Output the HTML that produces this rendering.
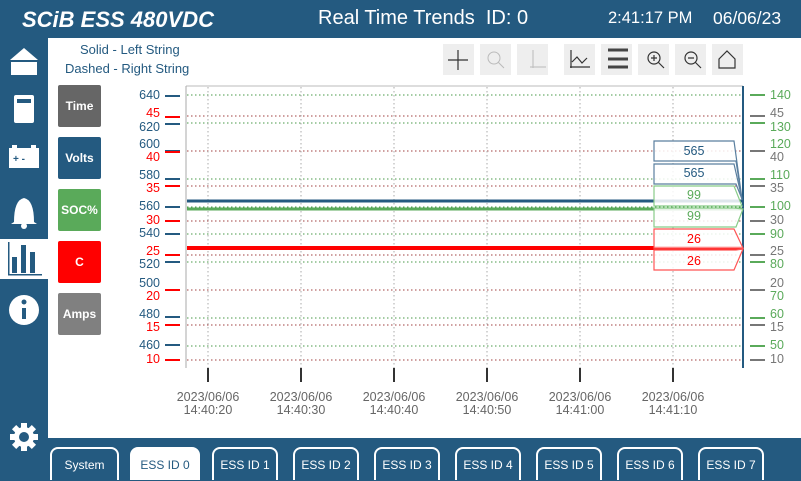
<!DOCTYPE html>
<html><head><meta charset="utf-8"><style>
body{margin:0;width:801px;height:480px;overflow:hidden;background:#245a80;font-family:"Liberation Sans",sans-serif;position:relative}
.hd{position:absolute;color:#fff;top:8px;font-size:19px}
.main{position:absolute;left:48px;top:38px;width:753px;height:400px;background:#fff}
.btn{position:absolute;left:58px;width:43px;height:42px;border-radius:2px;color:#fff;font-weight:bold;font-size:12px;display:flex;align-items:center;justify-content:center}
.tab{position:absolute;top:447px;width:66px;height:33px;border:2px solid #fff;border-bottom:none;border-radius:8px 8px 0 0;color:#fff;font-size:12px;text-align:center;line-height:32px;box-sizing:border-box}
.tb{position:absolute;top:44px;width:31px;height:31px;background:#eee}
</style></head><body>
<div class="hd" style="left:22px;top:7px;font-size:22px;font-weight:bold;font-style:italic">SCiB ESS 480VDC</div>
<div class="hd" style="left:318px;font-size:20px;top:7px">Real Time Trends&nbsp; ID: 0</div>
<div class="hd" style="left:608px;font-size:16.5px;top:9px">2:41:17 PM</div>
<div class="hd" style="left:713px;font-size:17.5px">06/06/23</div>
<div class="main"></div>
<div style="position:absolute;left:0;top:239px;width:48px;height:40px;background:#fff"></div>
<svg style="position:absolute;left:0;top:0" width="48" height="480">
<g fill="#fff">
<polygon points="10,60 24,48 38,60"/><rect x="11" y="62" width="26" height="13"/>
<rect x="14" y="95" width="20" height="28" rx="2"/>
<rect x="9" y="148" width="30" height="20"/><rect x="12" y="145" width="5" height="3"/><rect x="31" y="145" width="5" height="3"/>
<path d="M14,222 Q14,200 24,198 Q34,200 34,222 L37,224 L11,224 Z"/><circle cx="24" cy="226" r="3"/>
<circle cx="24" cy="310" r="15"/>
<circle cx="24" cy="437" r="10"/>
</g>
<g fill="#fff"><rect x="21" y="423" width="6" height="28"/><rect x="10" y="434" width="28" height="6"/><rect x="21" y="423" width="6" height="28" transform="rotate(45 24 437)"/><rect x="21" y="423" width="6" height="28" transform="rotate(-45 24 437)"/></g>
<circle cx="24" cy="437" r="5" fill="#245a80"/>
<rect x="22" y="308" width="4" height="11" fill="#245a80"/><circle cx="24" cy="302" r="2.5" fill="#245a80"/>
<rect x="17" y="99" width="14" height="4" fill="#245a80"/>
<text x="13" y="162" fill="#245a80" font-size="10" font-weight="bold">+ -</text>
<g fill="#245a80"><rect x="12" y="257" width="5" height="16"/><rect x="21" y="245" width="5" height="28"/><rect x="30" y="252" width="5" height="21"/><rect x="8" y="242" width="1.5" height="33"/><rect x="8" y="274" width="34" height="1.5"/></g>
</svg>
<div style="position:absolute;left:80px;top:42px;color:#245a80;font-size:13px">Solid - Left String</div>
<div style="position:absolute;left:65px;top:61px;color:#245a80;font-size:13px">Dashed - Right String</div>
<div class="btn" style="top:85px;background:#666">Time</div>
<div class="btn" style="top:137px;background:#245a80">Volts</div>
<div class="btn" style="top:189px;background:#5aaa5a">SOC%</div>
<div class="btn" style="top:241px;background:#f00">C</div>
<div class="btn" style="top:293px;background:#808080">Amps</div>
<div class="tb" style="left:443px"></div><div class="tb" style="left:480px"></div><div class="tb" style="left:517px"></div><div class="tb" style="left:564px"></div><div class="tb" style="left:601px"></div><div class="tb" style="left:638px"></div><div class="tb" style="left:675px"></div><div class="tb" style="left:712px"></div>
<svg style="position:absolute;left:0;top:0" width="801" height="480" font-family="Liberation Sans, sans-serif">
<g stroke="#333" fill="none" stroke-width="1.2">
<path d="M458,50 V70 M448,60 H468"/><circle cx="654" cy="58" r="6"/><path d="M658,62 L664,68 M651,58 H657 M654,55 V61"/>
<circle cx="691" cy="58" r="6"/><path d="M695,62 L701,68 M688,58 H694"/>
<path d="M719,59 L727,51 L735,59 V68 H719 Z"/>
<path d="M570,67 H590 M571,50 V68 M572,62 L577,57 L582,63 L587,58"/>
<path d="M608,50 H628 M608,59 H628 M608,67 H628" stroke-width="3" stroke="#444"/>
</g>
<g stroke="#bbb" fill="none"><circle cx="494" cy="58" r="6"/><path d="M498,62 L504,68 M530,67 H546 M533,50 V68"/></g>
<g stroke-dasharray="1.5,2.5" stroke-width="1">
<g stroke="#4a9a4a"><path d="M187,95H743M187,123H743M187,151H743M187,179H743M187,207H743M187,234H743M187,262H743M187,290H743M187,318H743M187,346H743"/></g>
<g stroke="#a04040"><path d="M187,116H743M187,151H743M187,186H743M187,221H743M187,255H743M187,290H743M187,325H743M187,360H743"/></g>
<g stroke="#aaa"><path d="M208,87V368M301,87V368M394,87V368M487,87V368M580,87V368M673,87V368"/></g>
</g>
<path d="M186,86H743" stroke="#bbb"/><path d="M186,86V368" stroke="#aaa"/><path d="M743,86V368" stroke="#245a80" stroke-width="2"/>
<g stroke="#333" stroke-width="2"><path d="M208,368v14M301,368v14M394,368v14M487,368v14M580,368v14M673,368v14"/></g>
<g fill="#666" font-size="12.5" text-anchor="middle">
<text x="208" y="401">2023/06/06</text><text x="208" y="414">14:40:20</text>
<text x="301" y="401">2023/06/06</text><text x="301" y="414">14:40:30</text>
<text x="394" y="401">2023/06/06</text><text x="394" y="414">14:40:40</text>
<text x="487" y="401">2023/06/06</text><text x="487" y="414">14:40:50</text>
<text x="580" y="401">2023/06/06</text><text x="580" y="414">14:41:00</text>
<text x="673" y="401">2023/06/06</text><text x="673" y="414">14:41:10</text>
</g>
<g stroke="#245a80" stroke-width="2"><path d="M165,96h15M165,124h15M165,151h15M165,179h15M165,207h15M165,234h15M165,262h15M165,290h15M165,317h15M165,345h15"/></g>
<g stroke="#f00" stroke-width="2"><path d="M165,117h15M165,152h15M165,186h15M165,221h15M165,255h15M165,290h15M165,325h15M165,360h15"/></g>
<g font-size="12.5" text-anchor="end" fill="#245a80">
<text x="160" y="99">640</text><text x="160" y="131">620</text><text x="160" y="148">600</text><text x="160" y="179">580</text><text x="160" y="210">560</text><text x="160" y="237">540</text><text x="160" y="268">520</text><text x="160" y="287">500</text><text x="160" y="318">480</text><text x="160" y="349">460</text>
</g>
<g font-size="12.5" text-anchor="end" fill="#f00">
<text x="160" y="117">45</text><text x="160" y="161">40</text><text x="160" y="192">35</text><text x="160" y="224">30</text><text x="160" y="255">25</text><text x="160" y="300">20</text><text x="160" y="331">15</text><text x="160" y="363">10</text>
</g>
<g stroke="#5aaa5a" stroke-width="2"><path d="M750,95h15M750,123h15M750,151h15M750,179h15M750,207h15M750,234h15M750,262h15M750,290h15M750,318h15M750,346h15"/></g>
<g stroke="#777" stroke-width="2"><path d="M750,116h15M750,151h15M750,186h15M750,221h15M750,255h15M750,290h15M750,325h15M750,360h15"/></g>
<g font-size="12.5" fill="#5aaa5a"><text x="770" y="99">140</text><text x="770" y="131">130</text><text x="770" y="148">120</text><text x="770" y="179">110</text><text x="770" y="210">100</text><text x="770" y="238">90</text><text x="770" y="268">80</text><text x="770" y="300">70</text><text x="770" y="318">60</text><text x="770" y="349">50</text></g>
<g font-size="12.5" fill="#777"><text x="770" y="117">45</text><text x="770" y="161">40</text><text x="770" y="192">35</text><text x="770" y="224">30</text><text x="770" y="255">25</text><text x="770" y="287">20</text><text x="770" y="331">15</text><text x="770" y="363">10</text></g>
<path d="M187,201H742" stroke="#245a80" stroke-width="3"/>
<path d="M187,209H742" stroke="#5aaa5a" stroke-width="3"/>
<path d="M187,248H742" stroke="#f00" stroke-width="4"/>
<g fill="rgba(255,255,255,0.85)" stroke-width="1.2">
<polygon points="654,141 734,141 742,199 742,200 736,161 654,161" stroke="#5a7f9f"/>
<polygon points="654,164 734,164 742,199 736,184 654,184" stroke="#5a7f9f"/>
<polygon points="654,186 734,186 742,206 736,206 654,206" stroke="#8c8" />
<polygon points="654,208 734,208 743,209 736,227 654,227" stroke="#8c8"/>
<polygon points="654,229 734,229 743,248 736,248 654,248" stroke="#f55"/>
<polygon points="654,250 736,250 743,249 734,270 654,270" stroke="#f55"/>
</g>
<g font-size="12.5" text-anchor="middle"><text x="694" y="155" fill="#245a80">565</text><text x="694" y="177" fill="#245a80">565</text><text x="694" y="199" fill="#5aaa5a">99</text><text x="694" y="220" fill="#5aaa5a">99</text><text x="694" y="243" fill="#f00">26</text><text x="694" y="265" fill="#f00">26</text></g>
</svg>
<div class="tab" style="left:50px;width:69px">System</div>
<div class="tab" style="left:130px;width:70px;background:#fff;color:#245a80">ESS ID 0</div>
<div class="tab" style="left:212px">ESS ID 1</div>
<div class="tab" style="left:293px">ESS ID 2</div>
<div class="tab" style="left:374px">ESS ID 3</div>
<div class="tab" style="left:455px">ESS ID 4</div>
<div class="tab" style="left:536px">ESS ID 5</div>
<div class="tab" style="left:617px">ESS ID 6</div>
<div class="tab" style="left:698px">ESS ID 7</div>
</body></html>
